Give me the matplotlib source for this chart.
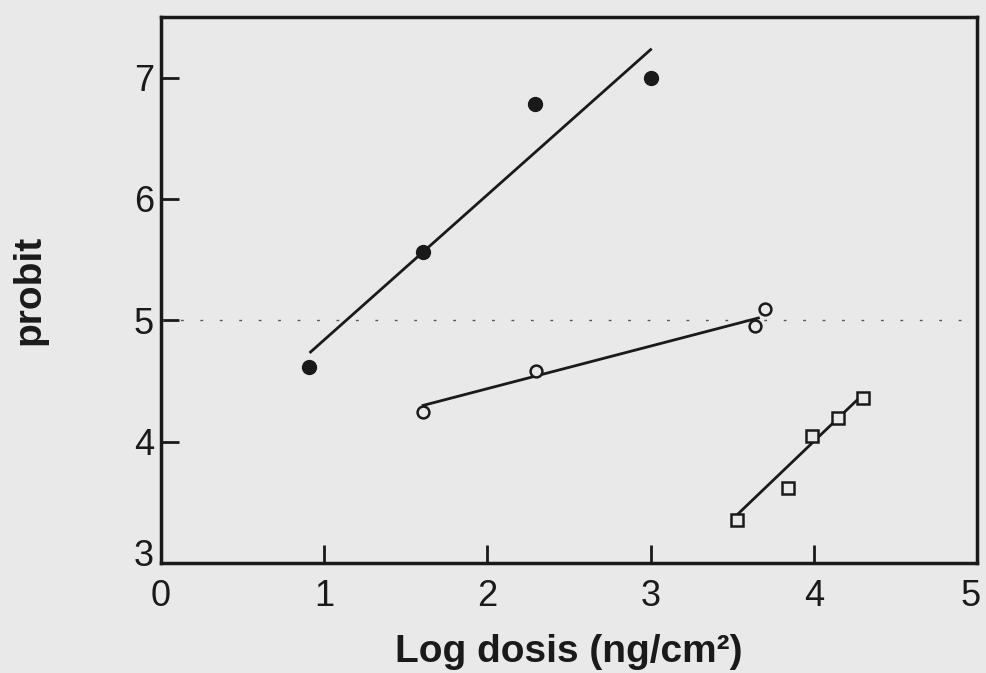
import numpy as np
import matplotlib.pyplot as plt
from matplotlib.transforms import ScaledTranslation

plt.rcParams['font.family'] = ['Liberation Sans', 'DejaVu Sans']

# filled circles
x_fill = [0.905, 1.606, 2.29, 3.0]
y_fill = [4.62, 5.56, 6.78, 7.0]
fit_fill_x = [0.917, 3.0]
fit_fill_y = [4.74, 7.23]

# open circles
x_open = [1.606, 2.30, 3.64, 3.70]
y_open = [4.25, 4.58, 4.95, 5.09]
fit_open_x = [1.606, 3.66]
fit_open_y = [4.30, 5.02]

# squares
x_sq = [3.53, 3.84, 3.99, 4.15, 4.30]
y_sq = [3.36, 3.62, 4.05, 4.20, 4.36]
fit_sq_x = [3.53, 4.30]
fit_sq_y = [3.40, 4.39]

bg = '#e9e9e9'
ink = '#1a1a1a'

fig = plt.figure(figsize=(9.87, 6.73), dpi=100, facecolor=bg)
ax = fig.add_axes([0.163, 0.163, 0.827, 0.812])
ax.set_facecolor(bg)

ax.axhline(5, color='#555555', lw=1.0, ls=(0, (2, 12)))

ax.plot(fit_fill_x, fit_fill_y, color=ink, lw=2)
ax.plot(fit_open_x, fit_open_y, color=ink, lw=2)
ax.plot(fit_sq_x, fit_sq_y, color=ink, lw=2)

ax.plot(x_fill, y_fill, 'o', ms=10, color=ink, zorder=3)
ax.plot(x_open, y_open, 'o', ms=8.5, mfc=bg, mec=ink, mew=1.8, zorder=3)
ax.plot(x_sq, y_sq, 's', ms=9, mfc=bg, mec=ink, mew=1.8, zorder=3)

ax.set_xlim(0, 5)
ax.set_ylim(3, 7.5)
ax.set_xticks([0, 1, 2, 3, 4, 5])
ax.set_yticks([3, 4, 5, 6, 7])

for s in ax.spines.values():
    s.set_linewidth(2.5)
    s.set_color(ink)

ax.tick_params(direction='in', length=13, width=2, labelsize=26, colors=ink)
ax.tick_params(axis='x', pad=11)
ax.tick_params(axis='y', pad=5)

ax.set_xlabel('Log dosis (ng/cm²)', fontsize=28, fontweight='bold', labelpad=15, color=ink)
ax.set_ylabel('probit', fontsize=28, fontweight='bold', labelpad=62, color=ink)

# lift the "3" off the corner like the original, nudge the "5" inside the edge
lbl3 = ax.get_yticklabels()[0]
lbl3.set_transform(lbl3.get_transform() + ScaledTranslation(0, 8 / 72, fig.dpi_scale_trans))
lbl5 = ax.get_xticklabels()[-1]
lbl5.set_transform(lbl5.get_transform() + ScaledTranslation(-5 / 72, 0, fig.dpi_scale_trans))

fig.savefig('out.png', dpi=100, facecolor=bg)
